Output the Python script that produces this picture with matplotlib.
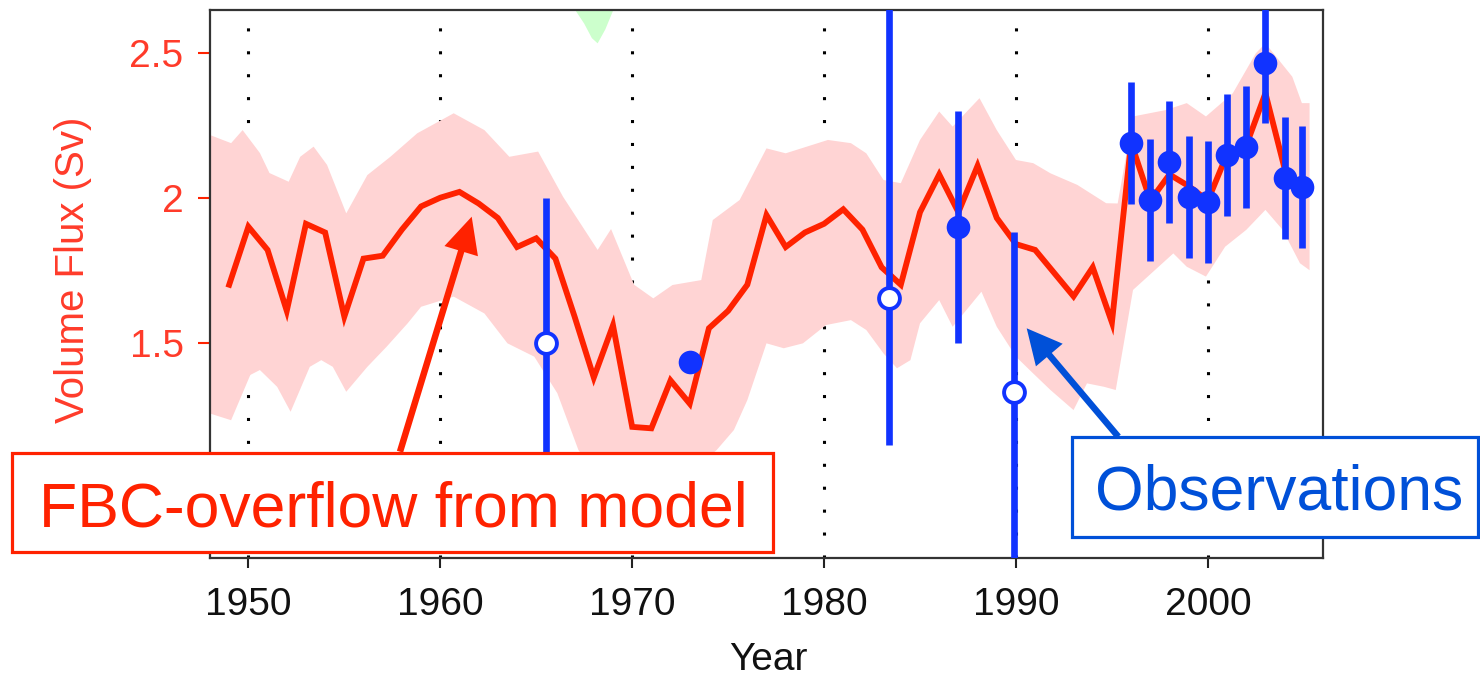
import numpy as np
import matplotlib
matplotlib.use('Agg')
import matplotlib.pyplot as plt
from matplotlib.patches import FancyArrow, Rectangle
from matplotlib.transforms import IdentityTransform

plt.rcParams['font.family'] = ['Liberation Sans', 'DejaVu Sans']

# model overflow (annual)
model_years = list(range(1949, 2006))
model_flux = [1.70, 1.90, 1.82, 1.61, 1.91, 1.88, 1.59, 1.79, 1.80, 1.89,
              1.97, 2.00, 2.02, 1.98, 1.93, 1.83, 1.86, 1.79, 1.59, 1.38,
              1.56, 1.21, 1.205, 1.37, 1.29, 1.55, 1.61, 1.70, 1.94, 1.83,
              1.88, 1.91, 1.96, 1.89, 1.76, 1.70, 1.95, 2.08, 1.95, 2.11,
              1.93, 1.84, 1.82, 1.74, 1.66, 1.76, 1.57, 2.19, 1.99, 2.08,
              2.04, 1.99, 2.15, 2.18, 2.36, 2.10, 2.03]

# model spread (upper / lower envelope)
upper_years = [1948.0, 1949.1, 1949.7, 1950.6, 1951.1, 1952.1, 1952.7, 1953.4,
               1954.1, 1955.1, 1956.2, 1957.4, 1958.8, 1960.7, 1962.3, 1963.6,
               1965.1, 1966.4, 1968.2, 1968.9, 1970.1, 1971.1, 1972.1, 1973.6,
               1974.2, 1975.6, 1977.0, 1978.0, 1980.2, 1981.4, 1982.2, 1983.1,
               1984.0, 1985.0, 1986.0, 1986.7, 1988.1, 1989.0, 1990.0, 1990.9,
               1991.8, 1993.2, 1994.7, 1995.3, 1996.1, 1997.8, 1998.9, 1999.9,
               2001.3, 2002.5, 2003.0, 2004.4, 2004.9, 2005.3]
upper_flux = [2.216, 2.188, 2.233, 2.154, 2.085, 2.055, 2.141, 2.176,
              2.113, 1.946, 2.078, 2.141, 2.222, 2.291, 2.233, 2.141,
              2.159, 2.003, 1.820, 1.892, 1.700, 1.653, 1.699, 1.716,
              1.923, 1.992, 2.170, 2.153, 2.199, 2.188, 2.153, 2.061,
              2.050, 2.199, 2.297, 2.245, 2.343, 2.233, 2.130, 2.119,
              2.084, 2.044, 1.981, 1.980, 2.280, 2.302, 2.326, 2.280,
              2.360, 2.498, 2.532, 2.417, 2.326, 2.326]
lower_years = [1948.0, 1949.1, 1950.1, 1950.6, 1951.5, 1952.2, 1953.2, 1953.8,
               1954.4, 1955.1, 1956.2, 1957.2, 1958.3, 1959.0, 1960.7, 1962.3,
               1963.5, 1964.9, 1966.1, 1967.2, 1968.5, 1970.0, 1971.5, 1973.0,
               1974.4, 1975.3, 1976.0, 1977.0, 1977.9, 1978.9, 1980.1, 1981.4,
               1982.2, 1983.1, 1983.8, 1984.5, 1985.0, 1986.0, 1986.7, 1988.2,
               1989.0, 1990.0, 1990.9, 1991.8, 1993.0, 1993.7, 1994.6, 1995.2,
               1996.1, 1998.2, 1998.9, 1999.9, 2000.9, 2002.0, 2003.0, 2003.9,
               2004.8, 2005.3]
lower_flux = [1.256, 1.233, 1.389, 1.406, 1.348, 1.262, 1.417, 1.440,
              1.417, 1.331, 1.417, 1.486, 1.567, 1.624, 1.659, 1.601,
              1.498, 1.452, 1.326, 1.130, 1.020, 0.980, 1.000, 1.050,
              1.130, 1.199, 1.302, 1.498, 1.481, 1.498, 1.561, 1.578,
              1.544, 1.463, 1.412, 1.440, 1.567, 1.647, 1.555, 1.676,
              1.555, 1.452, 1.394, 1.337, 1.268, 1.360, 1.348, 1.337,
              1.682, 1.808, 1.762, 1.728, 1.831, 1.889, 1.958, 1.889,
              1.774, 1.750]

# the edge of another (green) envelope peeking in at the top
green_years = [1966.9, 1967.5, 1967.9, 1968.2, 1968.6, 1969.1]
green_lower = [2.66, 2.60, 2.55, 2.532, 2.58, 2.66]
green_upper = [2.90, 2.90, 2.90, 2.90, 2.90, 2.90]

# observations: filled and open symbols
obs_years = [1973.0, 1987.0, 1996.0, 1997.0, 1998.0, 1999.0, 2000.0,
             2001.0, 2002.0, 2003.0, 2004.0, 2004.9]
obs_flux = [1.433, 1.90, 2.188, 1.992, 2.124, 2.003, 1.986,
            2.147, 2.176, 2.466, 2.067, 2.038]
obs_err = [0.0, 0.40, 0.21, 0.21, 0.21, 0.21, 0.21,
           0.21, 0.21, 0.21, 0.21, 0.21]
open_years = [1965.5, 1983.4, 1989.9]
open_flux = [1.50, 1.653, 1.331]
open_low = [1.00, 1.147, 0.70]
open_high = [2.00, 2.80, 1.881]

year_ticks = [1950, 1960, 1970, 1980, 1990, 2000]
flux_ticks = [1.5, 2.0, 2.5]
flux_ticklabels = ['1.5', '2', '2.5']

RED = '#ff2200'
BLUE = '#1133ff'
PINK = '#ffd4d4'
LABEL_RED = '#ff3b2a'
BOX_BLUE = '#0050d8'

W, H = 1480, 677
fig = plt.figure(figsize=(W / 100, H / 100), dpi=100)
ax = fig.add_axes([210 / W, 1 - 558 / H, 1113 / W, 548 / H])

for yr in year_ticks:
    ax.axvline(yr, color='k', lw=2.2, ls=(0, (1, 6.5)), zorder=0)

ax.fill(green_years + green_years[::-1], green_lower + green_upper[::-1],
        color='#ccffcc', lw=0, zorder=1)
ax.fill(upper_years + lower_years[::-1], upper_flux + lower_flux[::-1],
        color=PINK, lw=0, zorder=1)
ax.plot(model_years, model_flux, color=RED, lw=4.2, zorder=2,
        solid_joinstyle='miter')

# error bars
ax.errorbar(obs_years, obs_flux, yerr=obs_err, fmt='none', ecolor=BLUE,
            elinewidth=4.8, capsize=0, zorder=3)
open_err = [np.subtract(open_flux, open_low), np.subtract(open_high, open_flux)]
ax.errorbar(open_years, open_flux, yerr=open_err, fmt='none', ecolor=BLUE,
            elinewidth=4.8, capsize=0, zorder=3)
ax.plot(obs_years, obs_flux, 'o', color=BLUE, ms=17, mew=0, zorder=4)
ax.plot(open_years, open_flux, 'o', mfc='white', mec=BLUE, ms=15, mew=2.8,
        zorder=4)

ax.set_xlim(1948.0, 2006.0)
ax.set_ylim(0.758, 2.647)
ax.set_xticks(year_ticks)
ax.set_yticks(flux_ticks)
ax.set_yticklabels(flux_ticklabels)
ax.tick_params(axis='y', colors=RED, labelcolor=LABEL_RED, length=8.5,
               width=1.5, pad=10.5, labelsize=28)
ax.tick_params(axis='x', colors='#222222', labelcolor='#111111', length=7,
               width=1.5, pad=14, labelsize=28)
for s in ax.spines.values():
    s.set_color('#333333')
    s.set_linewidth(1.6)

ax.set_ylabel('Volume Flux (Sv)', color=LABEL_RED, fontsize=29)
ax.yaxis.set_label_coords(-0.106, 0.5255)
ax.set_xlabel('Year', color='#111111', fontsize=28)
ax.xaxis.set_label_coords(0.5013, -0.153)

# arrows and call-out boxes (figure pixel coordinates)
ident = IdentityTransform()
fig.add_artist(FancyArrow(400, H - 451.7, 71.7, -(216.7 - 451.7), width=6.5,
                          head_width=35, head_length=36,
                          length_includes_head=True, color=RED, lw=0,
                          transform=ident, zorder=5))
fig.add_artist(FancyArrow(1118.3, H - 436.7, 1026.7 - 1118.3, -(328.3 - 436.7),
                          width=6.5, head_width=35, head_length=35,
                          length_includes_head=True, color=BOX_BLUE, lw=0,
                          transform=ident, zorder=5))
fig.add_artist(Rectangle((11.7, H - 551.7), 761.3, 98.4, transform=ident,
                         facecolor='white', edgecolor=RED, lw=2.3, zorder=6))
fig.add_artist(Rectangle((1071.7, H - 537.3), 406, 100.6, transform=ident,
                         facecolor='white', edgecolor=BOX_BLUE, lw=2.3,
                         zorder=6))
fig.text(393 / W, 1 - 526.7 / H, 'FBC-overflow from model', color=RED,
         fontsize=45, ha='center', va='baseline', zorder=7)
fig.text(1095 / W, 1 - 510 / H, 'Observations', color=BOX_BLUE,
         fontsize=45, ha='left', va='baseline', zorder=7)

fig.savefig('out.png', dpi=100)
